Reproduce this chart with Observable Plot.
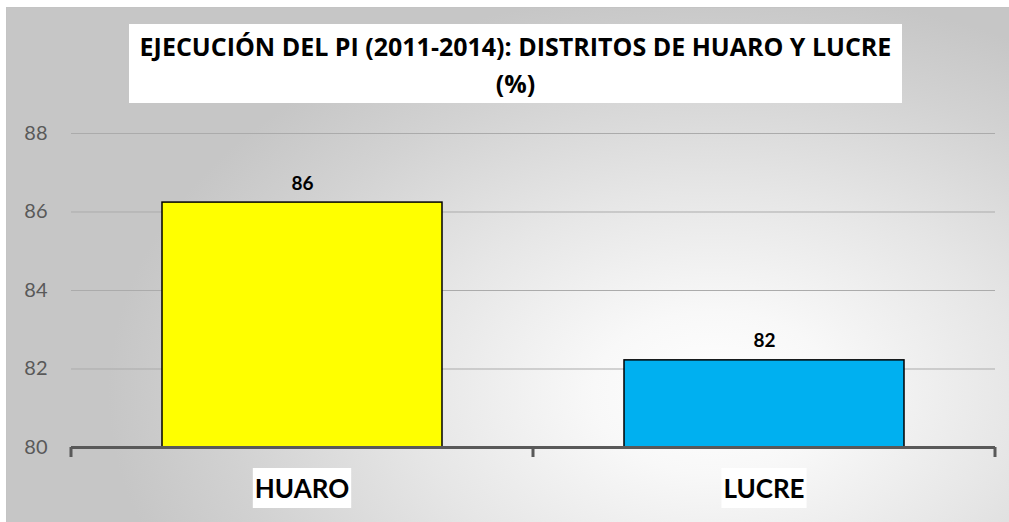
<!DOCTYPE html>
<html><head><meta charset="utf-8">
<script src="https://cdn.jsdelivr.net/npm/d3@7"></script>
<script src="https://cdn.jsdelivr.net/npm/@observablehq/plot@0.6"></script>
<style>
body{margin:0;background:#fff;}
#wrap{position:relative;width:1009px;height:522px;overflow:hidden;font-family:Lato,sans-serif;}
#frame{position:absolute;left:6px;top:7px;width:1010px;height:520px;background:radial-gradient(ellipse 60% 78% at 70% 74%, #ffffff 0%, #f8f8f8 20%, #e6e6e6 50%, #d2d2d2 80%, #c6c6c6 100%);border-top:1px solid #c4c4c4;border-left:1px solid #c4c4c4;}
#title{position:absolute;left:129px;top:24px;width:773px;height:79px;background:#fff;text-align:center;font-family:"Open Sans",sans-serif;font-weight:700;font-size:25px;line-height:37px;padding-top:4px;box-sizing:border-box;color:#000;white-space:nowrap;overflow:hidden;}
#chart{position:absolute;left:0;top:0;}
</style></head><body>
<div id="wrap"><div id="frame"></div><div id="title">EJECUCIÓN DEL PI (2011-2014): DISTRITOS DE HUARO Y LUCRE<br>(%)</div><div id="chart"></div></div>
<script>
const categories = ["HUARO", "LUCRE"];
const values = [86.24, 82.22];
const colors = ["#ffff00", "#00b0f0"];
const yTicks = [80, 82, 84, 86, 88];

const data = categories.map((c, i) => ({cat: c, value: values[i], color: colors[i]}));
const yMin = yTicks[0], yMax = yTicks[yTicks.length - 1];

function categoryAxis(index, scales, vals, dims) {
  const x = scales.x;
  const bw = x.bandwidth(), step = x.step();
  const y0 = dims.height - dims.marginBottom;
  const g = d3.create("svg:g");
  const bounds = [x(categories[0]) + bw / 2 - step / 2, ...categories.map(c => x(c) + bw / 2 + step / 2)];
  g.selectAll("line").data(bounds).join("line")
    .attr("x1", d => d).attr("x2", d => d)
    .attr("y1", y0).attr("y2", y0 + 10)
    .attr("stroke", "#595959").attr("stroke-width", 3);
  const font = "bold 26px Lato";
  const ctx = document.createElement("canvas").getContext("2d");
  ctx.font = font;
  categories.forEach(c => {
    const cx = x(c) + bw / 2;
    const w = ctx.measureText(c).width;
    g.append("rect").attr("x", cx - w / 2 - 2).attr("y", y0 + 21).attr("width", w + 4).attr("height", 40).attr("fill", "#fff");
    g.append("text").attr("x", cx).attr("y", y0 + 51).attr("text-anchor", "middle")
      .attr("font-family", "Lato").attr("font-weight", "bold").attr("font-size", 26).attr("fill", "#000").text(c);
  });
  return g.node();
}

const chart = Plot.plot({
  width: 1009,
  height: 522,
  marginLeft: 71,
  marginRight: 14,
  marginTop: 133,
  marginBottom: 75,
  style: {background: "transparent", fontFamily: "Lato, sans-serif"},
  x: {domain: categories, paddingInner: 0.394, paddingOuter: 0.197, axis: null},
  y: {domain: [yMin, yMax], ticks: yTicks},
  marks: [
    Plot.gridY(yTicks, {stroke: "#ababab", strokeOpacity: 1, strokeWidth: 1}),
    Plot.axisY(yTicks, {tickSize: 0, tickPadding: 24, fontSize: 20, fill: "#595959", label: null, tickFormat: d => d}),
    Plot.barY(data, {x: "cat", y1: () => yMin, y2: "value", fill: "color", stroke: "#000", strokeWidth: 1.5}),
    Plot.ruleY([yMin], {stroke: "#595959", strokeWidth: 3}),
    Plot.text(data, {x: "cat", y: "value", text: d => Math.round(d.value), dy: -19, fontSize: 19, fontWeight: "bold", fill: "#000"}),
    categoryAxis
  ]
});
document.getElementById("chart").appendChild(chart);
</script>
</body></html>
